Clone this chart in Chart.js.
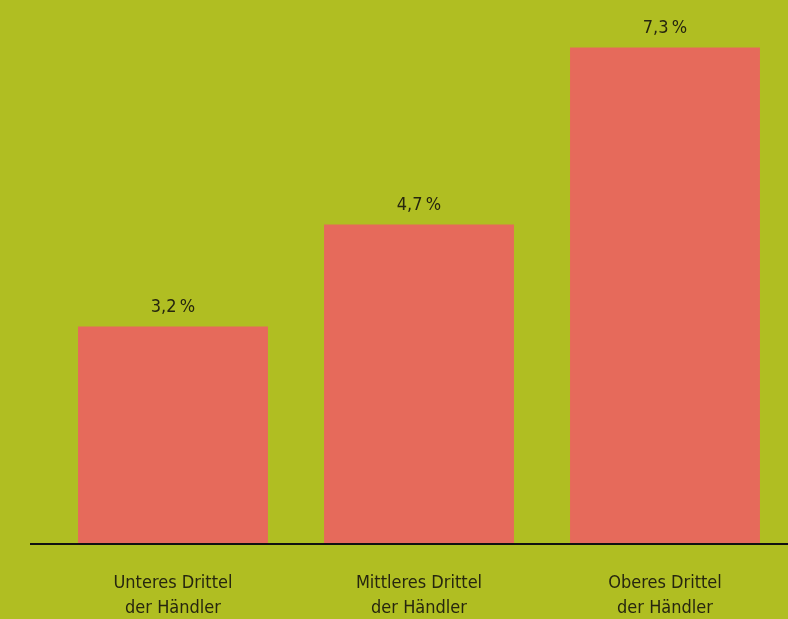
<!DOCTYPE html>
<html>
<head>
<meta charset="utf-8">
<script src="https://cdn.jsdelivr.net/npm/chart.js@4/dist/chart.umd.min.js"></script>
<style>
  html, body { margin: 0; padding: 0; background: #B0BE22; }
  #wrap { width: 788px; height: 619px; position: relative; }
</style>
</head>
<body>
<div id="wrap"><canvas id="c"></canvas></div>
<script>
const categories = [
  ['Unteres Drittel', 'der Händler'],
  ['Mittleres Drittel', 'der Händler'],
  ['Oberes Drittel', 'der Händler']
];
const values = [3.2, 4.7, 7.3];

const FONT = '"Liberation Sans Narrow", "DejaVu Sans Condensed", "Open Sans", sans-serif';
const TEXT = '#26260f';

function formatPct(v) {
  return v.toFixed(1).replace('.', ',') + '\u202F%';
}

// Value labels above each bar
const valueLabels = {
  id: 'valueLabels',
  afterDatasetsDraw(chart) {
    const ctx = chart.ctx;
    const meta = chart.getDatasetMeta(0);
    ctx.save();
    ctx.font = '18px ' + FONT;
    ctx.fillStyle = TEXT;
    ctx.textAlign = 'center';
    ctx.textBaseline = 'middle';
    meta.data.forEach((bar, i) => {
      ctx.fillText(formatPct(values[i]), bar.x, bar.y - 19);
    });
    ctx.restore();
  }
};

// Baseline along zero, extending a little past the plot's left edge
const baseline = {
  id: 'baseline',
  afterDatasetsDraw(chart) {
    const ctx = chart.ctx;
    const y = chart.scales.y.getPixelForValue(0);
    ctx.save();
    ctx.strokeStyle = '#111';
    ctx.lineWidth = 2;
    ctx.beginPath();
    ctx.moveTo(30, y);
    ctx.lineTo(chart.width, y);
    ctx.stroke();
    ctx.restore();
  }
};

new Chart(document.getElementById('c'), {
  type: 'bar',
  data: {
    labels: categories,
    datasets: [{
      data: values,
      backgroundColor: '#E66A5B',
      borderWidth: 0,
      barPercentage: 0.772,
      categoryPercentage: 1
    }]
  },
  options: {
    responsive: true,
    maintainAspectRatio: false,
    animation: false,
    layout: { padding: { left: 50, right: 0, top: 0, bottom: 0 } },
    plugins: { legend: { display: false }, tooltip: { enabled: false } },
    scales: {
      x: {
        grid: { display: false, drawTicks: false },
        border: { display: false },
        ticks: {
          color: TEXT,
          font: { family: FONT, size: 18, lineHeight: 1.39 },
          padding: 27,
          maxRotation: 0,
          autoSkip: false
        },
        afterFit(scale) { scale.height = 75; }
      },
      y: {
        display: false,
        min: 0,
        max: 8
      }
    }
  },
  plugins: [valueLabels, baseline]
});
</script>
</body>
</html>
